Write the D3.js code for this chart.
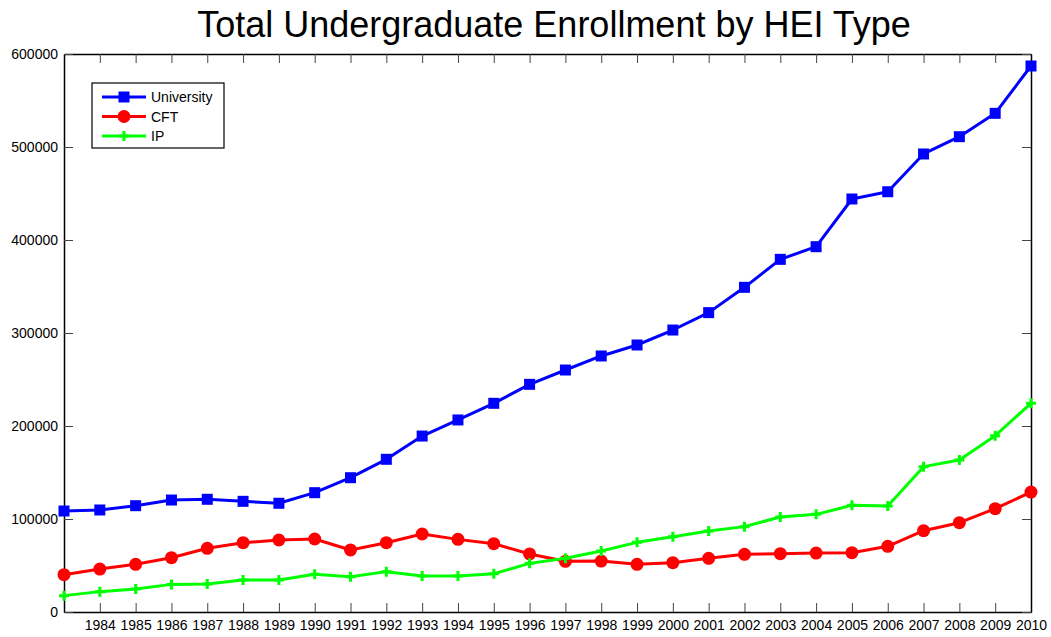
<!DOCTYPE html>
<html>
<head>
<meta charset="utf-8">
<script src="https://cdnjs.cloudflare.com/ajax/libs/d3/7.8.5/d3.min.js"></script>
<style>
  body { margin: 0; background: #fff; }
  svg { display: block; font-family: "Liberation Sans", Arial, sans-serif; }
</style>
</head>
<body>
<div class="chart"></div>
<script>
// data
var years = [1983, 1984, 1985, 1986, 1987, 1988, 1989, 1990, 1991, 1992, 1993, 1994, 1995, 1996,
             1997, 1998, 1999, 2000, 2001, 2002, 2003, 2004, 2005, 2006, 2007, 2008, 2009, 2010];
var university = [108600, 109700, 114300, 120400, 121200, 119000, 116900, 128300, 144400, 164200,
                  189200, 206500, 224400, 244800, 260200, 275300, 287100, 303200, 321900, 349100,
                  379200, 392800, 444100, 451900, 492500, 511100, 536200, 587100];
var cft = [40100, 46200, 51300, 58400, 68500, 74500, 77400, 78500, 66700, 74500,
           83900, 78100, 73500, 62400, 54500, 54800, 51300, 53000, 57700, 62000,
           62700, 63400, 63800, 70600, 87400, 96000, 111100, 129000];
var ip = [17600, 21900, 24700, 29700, 30100, 34400, 34400, 40500, 38000, 43400,
          38700, 38700, 41200, 52300, 57700, 65600, 74900, 81000, 87100, 91800,
          102200, 105000, 114700, 114000, 156300, 163400, 189600, 224400];
var xTickYears = years.slice(1);
var yTicks = [0, 100000, 200000, 300000, 400000, 500000, 600000];
var seriesNames = ["University", "CFT", "IP"];
var seriesColors = ["#0000ff", "#ff0000", "#00ff00"];
var seriesMarkers = ["square", "circle", "plus"];

var svgWidth = 1051;
var svgHeight = 637;
var margin = { top: 54, right: 20, bottom: 25, left: 64 };
var width = 1031 - margin.left;
var height = 612 - margin.top;

var svg = d3.select(".chart")
    .append("svg")
    .attr("width", svgWidth)
    .attr("height", svgHeight);

svg.append("text")
    .attr("x", 554)
    .attr("y", 37)
    .attr("text-anchor", "middle")
    .style("font-size", "36px")
    .text("Total Undergraduate Enrollment by HEI Type");

var chartGroup = svg.append("g")
    .attr("transform", `translate(${margin.left}, ${margin.top})`);

var x = d3.scaleLinear().domain([1983, 2010]).range([0, width]);
var y = d3.scaleLinear().domain([0, 600000]).range([height, 0]);

// axes, ticks pointing inward like matlab
var tickLen = 9;
var xAxis = d3.axisBottom(x).tickValues(xTickYears).tickFormat(d3.format("d"))
    .tickSizeInner(-tickLen).tickSizeOuter(0).tickPadding(5);
var xAxisTop = d3.axisTop(x).tickValues(xTickYears).tickFormat("")
    .tickSizeInner(-tickLen).tickSizeOuter(0);
var yAxis = d3.axisLeft(y).tickValues(yTicks).tickFormat(d3.format("d"))
    .tickSizeInner(-tickLen).tickSizeOuter(0).tickPadding(6);
var yAxisRight = d3.axisRight(y).tickValues(yTicks).tickFormat("")
    .tickSizeInner(-tickLen).tickSizeOuter(0);

var axes = [
    chartGroup.append("g").attr("transform", `translate(0,${height})`).call(xAxis),
    chartGroup.append("g").call(xAxisTop),
    chartGroup.append("g").call(yAxis),
    chartGroup.append("g").attr("transform", `translate(${width},0)`).call(yAxisRight)
];
axes.forEach(function(g) {
    g.select(".domain").attr("stroke", "#000").attr("stroke-width", 1.5);
    g.selectAll(".tick line").attr("stroke", "#444").attr("stroke-width", 1);
    g.selectAll(".tick text").attr("fill", "#000").style("font-size", "14px")
        .style("font-family", "'Liberation Sans', Arial, sans-serif");
});
axes[0].selectAll(".tick text").attr("dy", "0.9em");

function drawMarker(g, type, color, cx, cy) {
    if (type === "square") {
        g.append("rect").attr("x", cx - 5.5).attr("y", cy - 5.5)
            .attr("width", 11).attr("height", 11).attr("fill", color);
    } else if (type === "circle") {
        g.append("circle").attr("cx", cx).attr("cy", cy).attr("r", 6.5).attr("fill", color);
    } else {
        g.append("path").attr("d", `M${cx - 5},${cy}H${cx + 5}M${cx},${cy - 5}V${cy + 5}`)
            .attr("stroke", color).attr("stroke-width", 3);
    }
}

var line = d3.line()
    .x((d, i) => x(years[i]))
    .y(d => y(d));

[university, cft, ip].forEach(function(vals, s) {
    var g = chartGroup.append("g");
    g.append("path")
        .datum(vals)
        .attr("d", line)
        .attr("fill", "none")
        .attr("stroke", seriesColors[s])
        .attr("stroke-width", 3)
        .attr("stroke-linejoin", "round");
    vals.forEach(function(v, i) {
        drawMarker(g, seriesMarkers[s], seriesColors[s], x(years[i]), y(v));
    });
});

// legend box
var legend = svg.append("g").attr("transform", "translate(92,83)");
legend.append("rect")
    .attr("width", 132).attr("height", 65)
    .attr("fill", "#fff").attr("stroke", "#000").attr("stroke-width", 1.2);
seriesNames.forEach(function(name, s) {
    var ly = 14 + s * 19.5;
    legend.append("line")
        .attr("x1", 10).attr("x2", 54).attr("y1", ly).attr("y2", ly)
        .attr("stroke", seriesColors[s]).attr("stroke-width", 3);
    drawMarker(legend, seriesMarkers[s], seriesColors[s], 32, ly);
    legend.append("text")
        .attr("x", 59).attr("y", ly + 5)
        .style("font-size", "14px")
        .text(name);
});
</script>
</body>
</html>
